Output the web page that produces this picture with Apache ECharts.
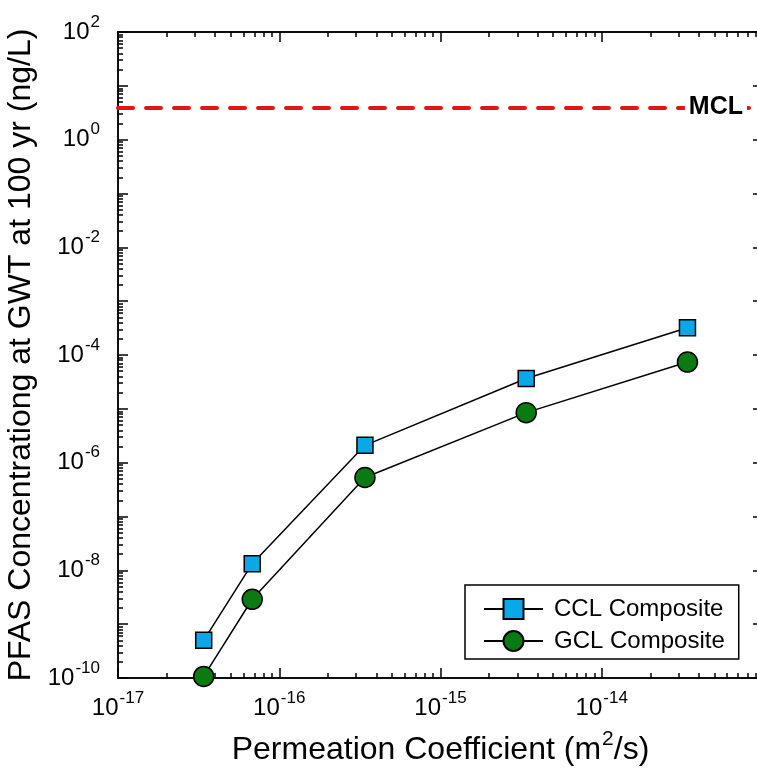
<!DOCTYPE html>
<html>
<head>
<meta charset="utf-8">
<script src="https://cdn.jsdelivr.net/npm/echarts@6/dist/echarts.min.js"></script>
<style>
  html, body { margin: 0; padding: 0; background: #fff; }
  #chart { width: 757px; height: 777px; }
</style>
</head>
<body>
<div id="chart"></div>
<script>
// Permeation coefficient (m^2/s) of each composite liner case
const permeation = [3.4e-17, 6.8e-17, 3.4e-16, 3.4e-15, 3.4e-14];
// PFAS concentration at the groundwater table after 100 yr (ng/L)
const cclComposite = [5.0e-10, 1.33e-8, 2.1e-6, 3.65e-5, 3.2e-4];
const gclComposite = [1.07e-10, 2.9e-9, 5.3e-7, 8.5e-6, 7.4e-5];
// Maximum contaminant level (ng/L)
const mclLevel = [4];
// Decade exponents for the axes
const xDecades = [-17, -16, -15, -14, -13];
const xLabelDecades = [-17, -16, -15, -14];
const yDecades = [-10, -9, -8, -7, -6, -5, -4, -3, -2, -1, 0, 1, 2];
const yLabelDecades = [-10, -8, -6, -4, -2, 0, 2];

const FONT = 'Liberation Sans, Arial, Helvetica, sans-serif';
const log10 = v => Math.log10(v);

// minor ticks at 2..9 x 10^n inside each decade
function minorTicks(decades) {
  const out = [];
  for (let i = 0; i < decades.length - 1; i++) {
    for (let k = 2; k <= 9; k++) out.push(decades[i] + Math.log10(k));
  }
  return out;
}

const powRich = {
  b: { fontSize: 24, fontFamily: FONT, color: '#000' },
  s: { fontSize: 17, fontFamily: FONT, color: '#000', padding: [0, 0, 20, 1] }
};
const powLabel = v => '{b|10}{s|' + Math.round(v) + '}';

const gridRect = { left: 118, top: 32, width: 645, height: 646, outerBoundsMode: 'none', containLabel: false };
const lineStyleAxis = { color: '#000', width: 1.5 };

function makeX(gridIndex, position, ticks, len, labels, extra) {
  return Object.assign({
    type: 'value', gridIndex, position, min: -17, max: -13,
    axisLine: { show: true, onZero: false, lineStyle: lineStyleAxis },
    axisTick: { show: true, inside: true, length: len, customValues: ticks, lineStyle: lineStyleAxis },
    axisLabel: labels ? { show: true, customValues: labels, formatter: powLabel, rich: powRich, margin: 12 } : { show: false },
    splitLine: { show: false }
  }, extra || {});
}
function makeY(gridIndex, position, ticks, len, labels, extra) {
  return Object.assign({
    type: 'value', gridIndex, position, min: -10, max: 2,
    axisLine: { show: true, onZero: false, lineStyle: lineStyleAxis },
    axisTick: { show: true, inside: true, length: len, customValues: ticks, lineStyle: lineStyleAxis },
    axisLabel: labels ? { show: true, customValues: labels, formatter: powLabel, rich: powRich, margin: 18 } : { show: false },
    splitLine: { show: false }
  }, extra || {});
}

const xMinor = minorTicks(xDecades);
const yMinor = minorTicks(yDecades);

const chart = echarts.init(document.getElementById('chart'), null, { renderer: 'canvas' });

chart.setOption({
  animation: false,
  backgroundColor: '#fff',
  grid: [
    Object.assign({}, gridRect),
    Object.assign({}, gridRect)
  ],
  xAxis: [
    makeX(0, 'bottom', xDecades, 10, xLabelDecades, {
      name: '{t|Permeation Coefficient (m}{u|2}{t|/s)}',
      nameLocation: 'middle',
      nameGap: 51,
      nameTextStyle: {
        rich: {
          t: { fontSize: 32, fontFamily: FONT, color: '#000' },
          u: { fontSize: 21, fontFamily: FONT, color: '#000', padding: [0, 0, 22, 1] }
        }
      }
    }),
    makeX(0, 'top', xDecades, 10, null),
    makeX(1, 'bottom', xMinor, 5, null),
    makeX(1, 'top', xMinor, 5, null)
  ],
  yAxis: [
    makeY(0, 'left', yDecades, 10, yLabelDecades, {
      name: 'PFAS Concentrationg at GWT at 100 yr (ng/L)',
      nameLocation: 'middle',
      nameRotate: 90,
      nameGap: 80,
      nameTextStyle: { fontSize: 32, fontFamily: FONT, color: '#000' }
    }),
    makeY(0, 'right', yDecades, 10, null),
    makeY(1, 'left', yMinor, 5, null),
    makeY(1, 'right', yMinor, 5, null)
  ],
  legend: {
    orient: 'vertical',
    left: 465,
    top: 585,
    padding: [12, 14, 6, 18],
    itemGap: 8,
    itemWidth: 59,
    itemHeight: 25,
    borderColor: '#000',
    borderWidth: 1.5,
    backgroundColor: '#fff',
    textStyle: { fontSize: 24, fontFamily: FONT, color: '#000', padding: [0, 0, 0, 6] },
    data: ['CCL Composite', 'GCL Composite']
  },
  series: [
    {
      name: 'CCL Composite',
      type: 'line',
      xAxisIndex: 0, yAxisIndex: 0,
      data: permeation.map((x, i) => [log10(x), log10(cclComposite[i])]),
      symbol: 'rect',
      symbolSize: 16,
      lineStyle: { color: '#000', width: 1.5 },
      itemStyle: { color: '#0aa8e6', borderColor: '#000', borderWidth: 1.5 },
      z: 3,
      markLine: {
        silent: true,
        symbol: 'none',
        lineStyle: { color: '#e01616', width: 4, type: [15, 13], cap: 'round' },
        label: {
          show: true,
          formatter: 'MCL',
          position: 'insideEnd',
          distance: 16,
          fontSize: 25,
          fontWeight: 'bold',
          fontFamily: FONT,
          color: '#000',
          backgroundColor: '#fff',
          padding: [2, 4]
        },
        data: mclLevel.map(v => ({ yAxis: log10(v) }))
      }
    },
    {
      name: 'GCL Composite',
      type: 'line',
      xAxisIndex: 0, yAxisIndex: 0,
      data: permeation.map((x, i) => [log10(x), log10(gclComposite[i])]),
      symbol: 'circle',
      symbolSize: 20,
      lineStyle: { color: '#000', width: 1.5 },
      itemStyle: { color: '#0a7a12', borderColor: '#000', borderWidth: 1.5 },
      z: 3
    }
  ]
});
</script>
</body>
</html>
